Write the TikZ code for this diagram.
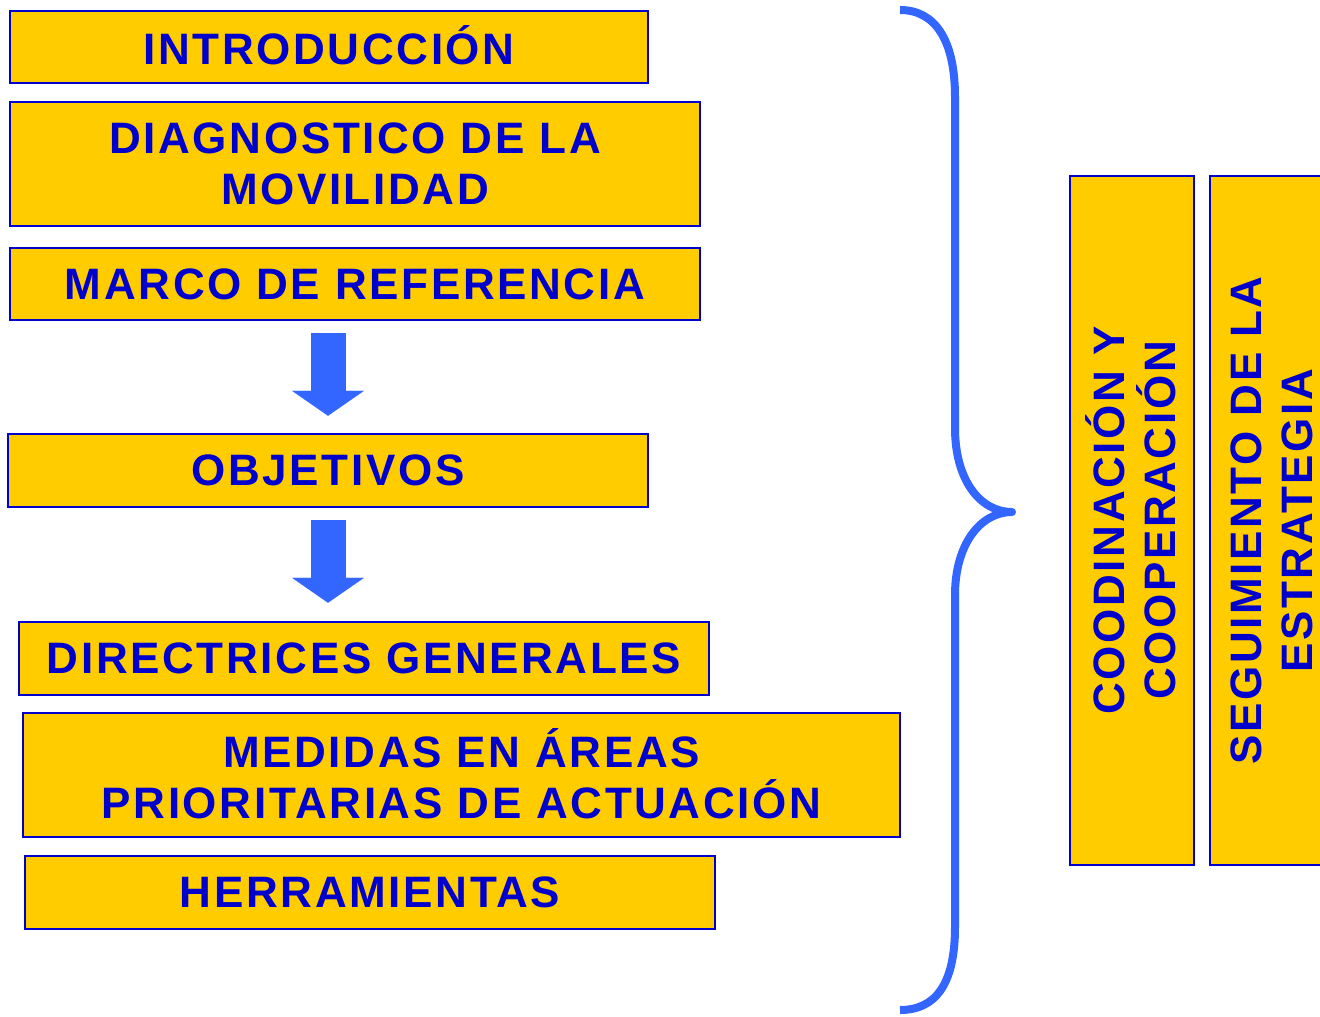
\documentclass[tikz,border=0pt]{standalone}
\usepackage{fontspec}
\usepackage{tikz}
\usetikzlibrary{arrows.meta}
\newfontfamily\boxfont{Liberation Sans}[LetterSpace=6]
\definecolor{boxfill}{HTML}{FFCC00}
\definecolor{boxblue}{HTML}{0000CC}
\definecolor{arrowblue}{HTML}{3366FF}

\begin{document}
\begin{tikzpicture}[x=1pt, y=-1pt,
boxnode/.style={rectangle, draw=boxblue, line width=2.5pt, fill=boxfill, text=boxblue, font=\boxfont\bfseries\fontsize{44}{51}\selectfont, align=center, inner sep=0pt},
sidenode/.style={boxnode, rotate=90, minimum width=689pt, minimum height=124pt},
downarrow/.style={draw=arrowblue, line width=35pt, -{Triangle[length=25pt, width=72pt, line width=0.1pt]}, shorten <=12pt},
brace/.style={draw=arrowblue, line width=8pt, line join=round},
]
\useasboundingbox (0,0) rectangle (1320,1017);

%Nodes
\node[boxnode, minimum width=638pt, minimum height=72pt]  (intro)   at (329,47)    {\raisebox{4pt}{INTRODUCCIÓN}};
\node[boxnode, minimum width=690pt, minimum height=124pt] (diag)    at (355,164)   {DIAGNOSTICO DE LA\\MOVILIDAD};
\node[boxnode, minimum width=690pt, minimum height=72pt]  (marco)   at (355,284)   {MARCO DE REFERENCIA};
\node[boxnode, minimum width=640pt, minimum height=73pt]  (obj)     at (328,470.5) {OBJETIVOS};
\node[boxnode, minimum width=690pt, minimum height=73pt]  (direc)   at (364,658.5) {DIRECTRICES GENERALES};
\node[boxnode, minimum width=877pt, minimum height=124pt] (medidas) at (461.5,775) {\raisebox{2.5pt}{MEDIDAS EN ÁREAS}\\\raisebox{2.5pt}{PRIORITARIAS DE ACTUACIÓN}};
\node[boxnode, minimum width=690pt, minimum height=73pt]  (herr)    at (370,892.5) {HERRAMIENTAS};
\node[sidenode] (coord) at (1132,520.5) {\raisebox{3pt}{COODINACIÓN Y}\\\raisebox{3pt}{COOPERACIÓN}};
\node[sidenode] (segui) at (1272,520.5) {SEGUIMIENTO DE LA\\ESTRATEGIA};

%Arrows
\draw[downarrow, shorten >=17pt] (marco.south -| obj.north) -- (obj.north);
\draw[downarrow, shorten >=18pt] (obj.south) -- (direc.north -| obj.south);

%Brace
\draw[brace] (900,10) .. controls (935,10) and (955,40) .. (955,97) -- (955,428)
  .. controls (955,480) and (980,512) .. (1012,512)
  .. controls (980,512) and (955,545) .. (955,595) -- (955,927)
  .. controls (955,985) and (935,1010) .. (900,1010);
\end{tikzpicture}
\end{document}
